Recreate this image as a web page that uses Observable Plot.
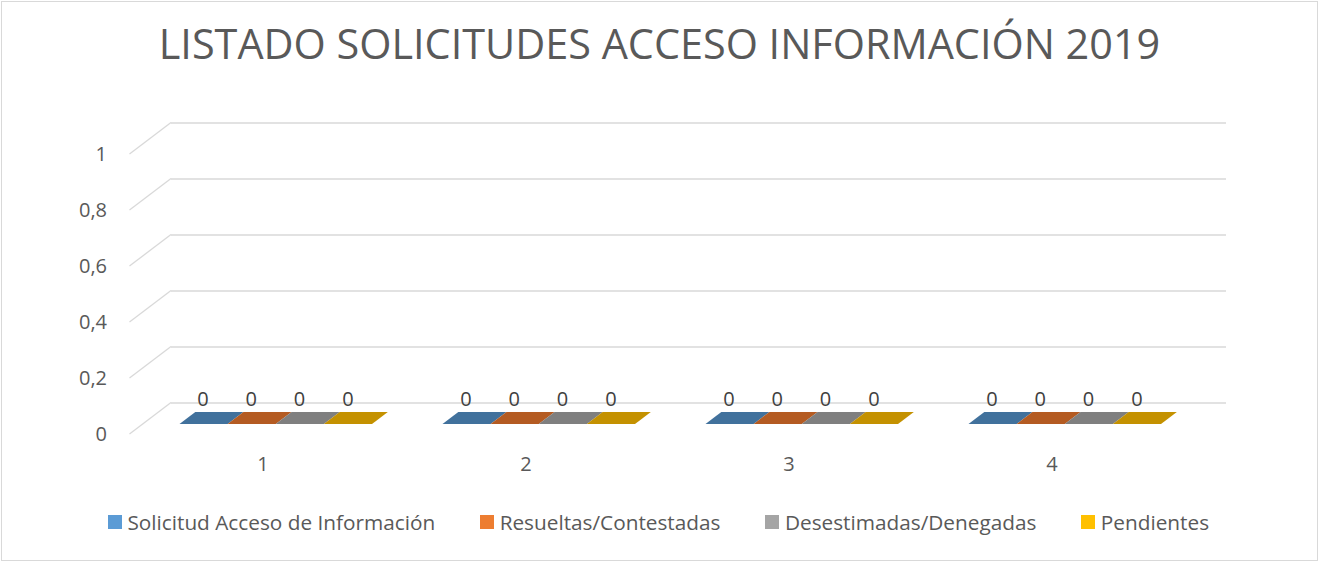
<!DOCTYPE html>
<html>
<head>
<meta charset="utf-8">
<script src="https://cdn.jsdelivr.net/npm/d3@7"></script>
<script src="https://cdn.jsdelivr.net/npm/@observablehq/plot@0.6"></script>
<style>
  html, body { margin: 0; padding: 0; background: #fff; }
  #chart { position: relative; width: 1319px; height: 562px; overflow: hidden;
           font-family: "Open Sans", sans-serif; color: #595959; }
  #frame { position: absolute; left: 1px; top: 1px; width: 1315px; height: 558px;
           border: 1px solid #d9d9d9; }
  #plot { position: absolute; left: 0; top: 0; }
  #title { position: absolute; left: 0; width: 1319px; text-align: center;
           line-height: 1; white-space: nowrap; }
  #legend { position: absolute; left: 0; width: 1319px; display: flex;
            justify-content: center; gap: 45px; line-height: 1; white-space: nowrap; }
  .item { display: flex; align-items: center; gap: 5.5px; }
  .sw { width: 14px; height: 14px; flex: none; }
</style>
</head>
<body>
<div id="chart">
  <div id="frame"></div>
  <div id="plot"></div>
  <div id="title"></div>
  <div id="legend"></div>
</div>
<script>
// ---- data ----
const titleText = "LISTADO SOLICITUDES ACCESO INFORMACIÓN 2019";
const categories = ["1", "2", "3", "4"];
const seriesNames = ["Solicitud Acceso de Información", "Resueltas/Contestadas", "Desestimadas/Denegadas", "Pendientes"];
const solicitudValues = [0, 0, 0, 0];
const resueltasValues = [0, 0, 0, 0];
const desestimadasValues = [0, 0, 0, 0];
const pendientesValues = [0, 0, 0, 0];
const yTicks = [0, 0.2, 0.4, 0.6, 0.8, 1];
const legendColors = ["#5B9BD5", "#ED7D31", "#A5A5A5", "#FFC000"];
const barColors = ["#41719C", "#B45B22", "#7F7F7F", "#C49100"];

const seriesValues = [solicitudValues, resueltasValues, desestimadasValues, pendientesValues];
const rows = categories.flatMap((c, j) =>
  seriesNames.map((s, i) => ({cat: c, series: s, si: i, value: seriesValues[i][j]})));

// ---- 3D look ----
const W = 1319, H = 562;
const mL = 129.5, mR = W - 1184.5, mT = 154, mB = H - 434;
const DX = 41.5, DY = 31.5;          // depth offset of back wall
const F0 = 0.32, F1 = 0.70;          // bar depth (front/back fraction)
const GP = 0.134;                    // outer gap of group in band
const bandW = (W - mL - mR) / categories.length;
const subW = bandW * (1 - 2 * GP) / seriesNames.length;

function diagonals(index, scales, values, dims) {
  const g = d3.create("svg:g").attr("stroke", "#d9d9d9").attr("stroke-width", 1.3).attr("fill", "none");
  const x0 = dims.marginLeft;
  for (const t of yTicks) {
    const y = scales.y(t);
    g.append("line").attr("x1", x0).attr("y1", y).attr("x2", x0 + DX).attr("y2", y - DY);
  }
  return g.node();
}

function bars3d(index, scales, values, dims) {
  const g = d3.create("svg:g");
  const bw = scales.x.bandwidth();
  const sub = d3.scaleBand().domain(seriesNames).range([bw * GP, bw * (1 - GP)]);
  const y0 = scales.y(0);
  for (const r of rows) {
    const x0 = scales.x(r.cat) + sub(r.series);
    const x1 = x0 + sub.bandwidth();
    const yv = scales.y(r.value);
    const col = barColors[r.si];
    if (yv < y0) {
      g.append("path").attr("fill", col)
        .attr("d", `M${x0 + F0 * DX},${yv - F0 * DY}H${x1 + F0 * DX}V${y0 - F0 * DY}H${x0 + F0 * DX}Z`);
    }
    g.append("path").attr("fill", col)
      .attr("d", `M${x0 + F0 * DX},${yv - F0 * DY}L${x1 + F0 * DX},${yv - F0 * DY}L${x1 + F1 * DX},${yv - F1 * DY}L${x0 + F1 * DX},${yv - F1 * DY}Z`);
  }
  return g.node();
}

const labelMarks = seriesNames.map((s, i) =>
  Plot.text(rows.filter(r => r.series === s), {
    x: "cat", y: "value", text: d => String(d.value).replace(".", ","),
    dx: -bandW / 2 + bandW * GP + (i + 0.5) * subW + 0.3 * DX,
    dy: -0.3 * DY - 25.5,
    fontSize: 20, fill: "#404040"
  }));

const chart = Plot.plot({
  width: W, height: H,
  marginLeft: mL, marginRight: mR, marginTop: mT, marginBottom: mB,
  style: {fontFamily: "'Open Sans', sans-serif", fontSize: "20px", color: "#595959", background: "transparent"},
  x: {type: "band", domain: categories, padding: 0, tickSize: 0, tickPadding: 22, label: null},
  y: {domain: [0, 1], ticks: yTicks, tickSize: 0, tickPadding: 23, label: null,
      tickFormat: d => String(d).replace(".", ",")},
  marks: [
    Plot.ruleY(yTicks, {stroke: "#d9d9d9", strokeWidth: 1.3, dx: DX, dy: -DY}),
    diagonals,
    bars3d,
    ...labelMarks
  ]
});
document.getElementById("plot").appendChild(chart);

// ---- title ----
const ctx = document.createElement("canvas").getContext("2d");
ctx.font = `100px "Open Sans"`;
const titleFs = 100 * 1002 / ctx.measureText(titleText).width;
const titleEl = document.getElementById("title");
titleEl.textContent = titleText;
titleEl.style.fontSize = titleFs + "px";
titleEl.style.top = (60 - 0.888 * titleFs) + "px";

// ---- legend ----
const textSum = d3.sum(seriesNames, s => ctx.measureText(s).width) / 100;
const legendFs = 889 / textSum;
const legend = document.getElementById("legend");
legend.style.fontSize = legendFs + "px";
legend.style.top = (522 - legendFs / 2) + "px";
legend.style.left = "-1px";
seriesNames.forEach((s, i) => {
  const it = document.createElement("div"); it.className = "item";
  const sw = document.createElement("div"); sw.className = "sw"; sw.style.background = legendColors[i];
  const tx = document.createElement("span"); tx.textContent = s;
  it.appendChild(sw); it.appendChild(tx); legend.appendChild(it);
});
</script>
</body>
</html>
